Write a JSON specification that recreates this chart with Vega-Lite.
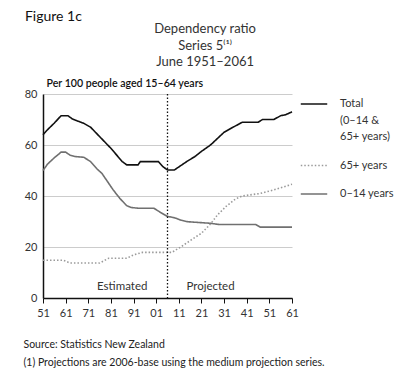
{
  "$schema": "https://vega.github.io/schema/vega-lite/v6.json",
  "width": 249,
  "height": 204,
  "autosize": "none",
  "padding": {"left": 43, "top": 94, "right": 108, "bottom": 91},
  "background": "white",
  "config": {
    "font": "Lato",
    "view": {"stroke": null},
    "axis": {"labelFont": "Lato", "titleFont": "Lato"},
    "style": {"guide-label": {"lineHeight": 16.5}}
  },
  "data": {
    "values": [
      {"year": 1951, "series": "Total", "value": 64},
      {"year": 1953, "series": "Total", "value": 66},
      {"year": 1956, "series": "Total", "value": 68.6},
      {"year": 1959, "series": "Total", "value": 71.5},
      {"year": 1962, "series": "Total", "value": 71.5},
      {"year": 1964, "series": "Total", "value": 70.2},
      {"year": 1966, "series": "Total", "value": 69.5},
      {"year": 1969, "series": "Total", "value": 68.5},
      {"year": 1972, "series": "Total", "value": 67},
      {"year": 1976, "series": "Total", "value": 63.3},
      {"year": 1981, "series": "Total", "value": 58.7},
      {"year": 1986, "series": "Total", "value": 53.5},
      {"year": 1988, "series": "Total", "value": 52.2},
      {"year": 1993, "series": "Total", "value": 52.2},
      {"year": 1994, "series": "Total", "value": 53.5},
      {"year": 2002, "series": "Total", "value": 53.5},
      {"year": 2004, "series": "Total", "value": 51.5},
      {"year": 2006, "series": "Total", "value": 50.2},
      {"year": 2009, "series": "Total", "value": 50.2},
      {"year": 2012, "series": "Total", "value": 52},
      {"year": 2015, "series": "Total", "value": 53.8},
      {"year": 2018, "series": "Total", "value": 55.4},
      {"year": 2021, "series": "Total", "value": 57.5},
      {"year": 2025, "series": "Total", "value": 60},
      {"year": 2028, "series": "Total", "value": 62.5},
      {"year": 2031, "series": "Total", "value": 65},
      {"year": 2035, "series": "Total", "value": 67},
      {"year": 2039, "series": "Total", "value": 68.9},
      {"year": 2046, "series": "Total", "value": 68.9},
      {"year": 2048, "series": "Total", "value": 70},
      {"year": 2053, "series": "Total", "value": 70},
      {"year": 2056, "series": "Total", "value": 71.5},
      {"year": 2058, "series": "Total", "value": 71.8},
      {"year": 2061, "series": "Total", "value": 73},
      {"year": 1951, "series": "0–14 years", "value": 50},
      {"year": 1953, "series": "0–14 years", "value": 52.5},
      {"year": 1956, "series": "0–14 years", "value": 55},
      {"year": 1959, "series": "0–14 years", "value": 57.2},
      {"year": 1961, "series": "0–14 years", "value": 57.2},
      {"year": 1963, "series": "0–14 years", "value": 56},
      {"year": 1965, "series": "0–14 years", "value": 55.5},
      {"year": 1969, "series": "0–14 years", "value": 55.2},
      {"year": 1972, "series": "0–14 years", "value": 53.5},
      {"year": 1975, "series": "0–14 years", "value": 50.5},
      {"year": 1977, "series": "0–14 years", "value": 48.9},
      {"year": 1980, "series": "0–14 years", "value": 45},
      {"year": 1982, "series": "0–14 years", "value": 42.4},
      {"year": 1985, "series": "0–14 years", "value": 39},
      {"year": 1988, "series": "0–14 years", "value": 36.2},
      {"year": 1990, "series": "0–14 years", "value": 35.5},
      {"year": 1993, "series": "0–14 years", "value": 35.2},
      {"year": 2000, "series": "0–14 years", "value": 35.2},
      {"year": 2003, "series": "0–14 years", "value": 33.5},
      {"year": 2006, "series": "0–14 years", "value": 32},
      {"year": 2009, "series": "0–14 years", "value": 31.5},
      {"year": 2012, "series": "0–14 years", "value": 30.5},
      {"year": 2015, "series": "0–14 years", "value": 29.9},
      {"year": 2025, "series": "0–14 years", "value": 29.3},
      {"year": 2029, "series": "0–14 years", "value": 28.8},
      {"year": 2045, "series": "0–14 years", "value": 28.8},
      {"year": 2047, "series": "0–14 years", "value": 27.8},
      {"year": 2061, "series": "0–14 years", "value": 27.8},
      {"year": 1951, "series": "65+ years", "value": 14.8},
      {"year": 1960, "series": "65+ years", "value": 14.8},
      {"year": 1963, "series": "65+ years", "value": 13.7},
      {"year": 1976, "series": "65+ years", "value": 13.7},
      {"year": 1980, "series": "65+ years", "value": 15.6},
      {"year": 1988, "series": "65+ years", "value": 15.6},
      {"year": 1991, "series": "65+ years", "value": 16.9},
      {"year": 1995, "series": "65+ years", "value": 17.9},
      {"year": 2008, "series": "65+ years", "value": 17.9},
      {"year": 2012, "series": "65+ years", "value": 20.1},
      {"year": 2016, "series": "65+ years", "value": 22.5},
      {"year": 2021, "series": "65+ years", "value": 25.4},
      {"year": 2025, "series": "65+ years", "value": 29},
      {"year": 2028, "series": "65+ years", "value": 32.5},
      {"year": 2032, "series": "65+ years", "value": 36},
      {"year": 2036, "series": "65+ years", "value": 38.8},
      {"year": 2039, "series": "65+ years", "value": 40},
      {"year": 2047, "series": "65+ years", "value": 41},
      {"year": 2053, "series": "65+ years", "value": 42.4},
      {"year": 2057, "series": "65+ years", "value": 43.5},
      {"year": 2061, "series": "65+ years", "value": 44.6}
    ]
  },
  "layer": [
    {
      "mark": {"type": "line", "strokeWidth": 1.6, "interpolate": "linear"},
      "encoding": {
        "x": {
          "field": "year",
          "type": "quantitative",
          "scale": {"domain": [1951, 2061], "nice": false, "zero": false},
          "axis": {
            "values": [1951, 1961, 1971, 1981, 1991, 2001, 2011, 2021, 2031, 2041, 2051, 2061],
            "tickCount": 12,
            "labelExpr": "substring(datum.value + '', 2)",
            "labelOverlap": false,
            "labelFlush": false,
            "grid": false,
            "domainColor": "#111",
            "domainWidth": 1.5,
            "tickColor": "#111",
            "tickSize": 5,
            "tickWidth": 1,
            "labelFontSize": 11,
            "labelColor": "#333",
            "labelPadding": 4,
            "title": ["Source: Statistics New Zealand", "(1) Projections are 2006-base using the medium projection series."],
            "titleFontSize": 10.5,
            "titleFontWeight": "normal",
            "titleColor": "#222",
            "titleAlign": "left",
            "titleAnchor": null,
            "titleBaseline": "alphabetic",
            "titleLineHeight": 18,
            "titleX": -20,
            "titleY": 49
          }
        },
        "y": {
          "field": "value",
          "type": "quantitative",
          "scale": {"domain": [0, 80], "nice": false},
          "axis": {
            "values": [0, 20, 40, 60, 80],
            "grid": true,
            "gridColor": "#cccccc",
            "gridWidth": 1,
            "ticks": false,
            "domainColor": "#111",
            "domainWidth": 1.5,
            "labelFontSize": 11,
            "labelColor": "#333",
            "labelPadding": 6,
            "title": "Per 100 people aged 15–64 years",
            "titleAngle": 0,
            "titleAlign": "left",
            "titleAnchor": null,
            "titleBaseline": "alphabetic",
            "titleFontSize": 10.6,
            "titleFontWeight": 600,
            "titleColor": "#111",
            "titleX": 3,
            "titleY": -8
          }
        },
        "color": {
          "field": "series",
          "type": "nominal",
          "scale": {"domain": ["Total", "65+ years", "0–14 years"], "range": ["#111111", "#9a9a9a", "#707070"]},
          "legend": {
            "title": null,
            "orient": "none",
            "legendX": 257,
            "legendY": -4,
            "symbolType": "stroke",
            "symbolSize": 700,
            "symbolStrokeWidth": 1.5,
            "labelFontSize": 11,
            "labelColor": "#333",
            "labelOffset": 12,
            "labelLimit": 200,
            "rowPadding": 9.5,
            "labelExpr": "datum.label == 'Total' ? ['Total', '(0–14 &', '65+ years)'] : datum.label"
          }
        },
        "strokeDash": {
          "field": "series",
          "type": "nominal",
          "scale": {"domain": ["Total", "65+ years", "0–14 years"], "range": [[1, 0], [1.5, 2], [1, 0]]},
          "legend": null
        }
      }
    },
    {
      "data": {"values": [{}]},
      "mark": {"type": "rule", "color": "#111", "strokeDash": [1.5, 2], "strokeWidth": 1.3},
      "encoding": {"x": {"datum": 2006}}
    },
    {
      "data": {"values": [{}]},
      "mark": {"type": "text", "fontSize": 11.5, "color": "#333", "baseline": "alphabetic"},
      "encoding": {"x": {"datum": 1986}, "y": {"datum": 3.1}, "text": {"value": "Estimated"}}
    },
    {
      "data": {"values": [{}]},
      "mark": {"type": "text", "fontSize": 11.5, "color": "#333", "baseline": "alphabetic"},
      "encoding": {"x": {"datum": 2025}, "y": {"datum": 3.1}, "text": {"value": "Projected"}}
    },
    {
      "data": {"values": [{}]},
      "mark": {"type": "text", "fontSize": 14, "color": "#111", "baseline": "alphabetic", "align": "left"},
      "encoding": {"x": {"datum": 1943}, "y": {"datum": 108.6}, "text": {"value": "Figure 1c"}}
    },
    {
      "data": {"values": [{}]},
      "mark": {
        "type": "text",
        "fontSize": 13,
        "color": "#333",
        "baseline": "alphabetic",
        "align": "center",
        "lineHeight": 16.5,
        "text": ["Dependency ratio", "Series 5⁽¹⁾", "June 1951–2061"]
      },
      "encoding": {"x": {"datum": 2022.6}, "y": {"datum": 103.9}}
    }
  ]
}
